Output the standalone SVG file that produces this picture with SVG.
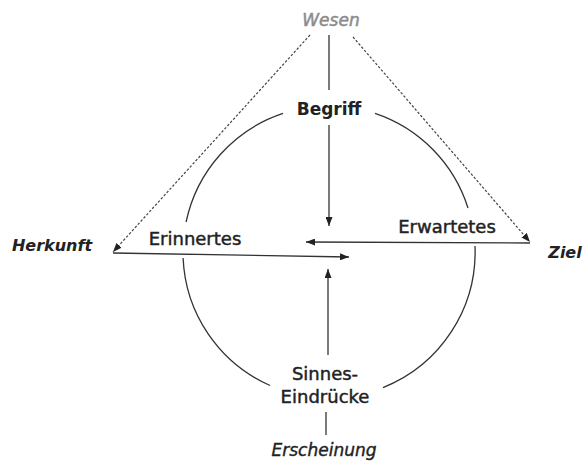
<svg xmlns="http://www.w3.org/2000/svg" width="583" height="466" viewBox="0 0 583 466">
<style>
text{font-family:"DejaVu Sans","Liberation Sans",sans-serif;fill:#222;text-anchor:middle}
.n{font-size:18px;stroke:#222;stroke-width:0.45}
.b{font-size:17px;font-weight:bold}
.i{font-size:16px;font-style:italic;font-weight:bold}
.e{font-size:17px;font-style:italic;stroke:#222;stroke-width:0.4}
.w{fill:#8c8c8c;font-weight:normal;font-size:17px;stroke:#8c8c8c;stroke-width:0.5}
.ln{stroke:#333;stroke-width:1.3;fill:none}
.ds{stroke:#444;stroke-width:1.2;fill:none;stroke-dasharray:2.5 1.8}
</style>
<defs>
<marker id="ah" viewBox="0 0 9 7" refX="9" refY="3.5" markerWidth="9" markerHeight="7" markerUnits="userSpaceOnUse" orient="auto">
<path d="M0,0 L9,3.5 L0,7 Z" fill="#222"/>
</marker>
</defs>
<g id="connectors">
<path class="ln" d="M283 113.4 A146 146 0 0 0 186.1 222"/>
<path class="ln" d="M183.1 258 A146 146 0 0 0 270 385.5"/>
<path class="ln" d="M375 113.4 A146 146 0 0 1 468 208"/>
<path class="ln" d="M475 246 A146 146 0 0 1 383 387.6"/>
<line class="ln" x1="329" y1="35" x2="329" y2="90"/>
<line class="ln" x1="329" y1="125" x2="329" y2="226" marker-end="url(#ah)"/>
<line class="ln" x1="328" y1="355" x2="328" y2="269" marker-end="url(#ah)"/>
<line class="ln" x1="326" y1="412" x2="326" y2="435"/>
<line class="ln" x1="113" y1="253" x2="349" y2="257" marker-end="url(#ah)"/>
<line class="ln" x1="530" y1="243" x2="306" y2="242" marker-end="url(#ah)"/>
<line class="ds" x1="310" y1="35" x2="113" y2="252" marker-end="url(#ah)"/>
<line class="ds" x1="353" y1="37" x2="530" y2="242" marker-end="url(#ah)"/>
</g>
<g id="wesen"><text class="i w" x="331" y="26">Wesen</text></g>
<g id="begriff"><text class="b" x="329" y="115">Begriff</text></g>
<g id="erinnertes"><text class="n" x="195" y="245">Erinnertes</text></g>
<g id="erwartetes"><text class="n" x="447" y="233">Erwartetes</text></g>
<g id="herkunft"><text class="i" x="52" y="251">Herkunft</text></g>
<g id="ziel"><text class="i" x="565" y="258">Ziel</text></g>
<g id="sinnes"><text class="n" x="325" y="380">Sinnes-</text><text class="n" x="325" y="403">Eindrücke</text></g>
<g id="erscheinung"><text class="e" x="324" y="456">Erscheinung</text></g>
</svg>
